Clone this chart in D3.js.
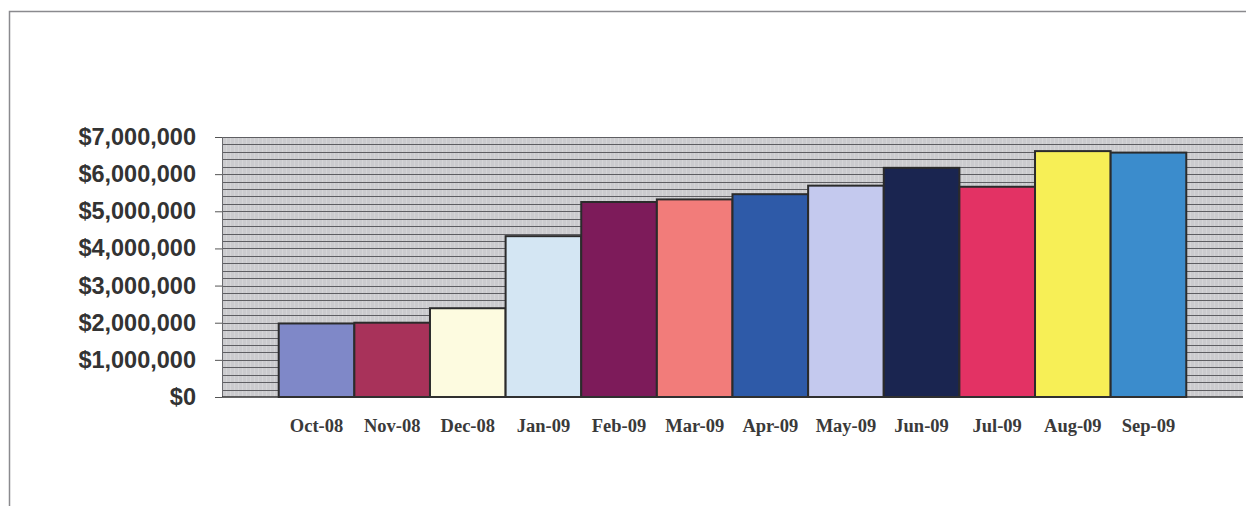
<!DOCTYPE html>
<html lang="en">
<head>
<meta charset="utf-8">
<script src="https://d3js.org/d3.v7.min.js"></script>
<style>
  body { margin: 0; background: #fff; }
  svg { display: block; }
</style>
</head>
<body>
<script>
// monthly totals, Oct-08 .. Sep-09
const months = ["Oct-08", "Nov-08", "Dec-08", "Jan-09", "Feb-09", "Mar-09",
                "Apr-09", "May-09", "Jun-09", "Jul-09", "Aug-09", "Sep-09"];
const amounts = [1980000, 2000000, 2390000, 4330000, 5250000, 5320000,
                 5460000, 5690000, 6170000, 5660000, 6620000, 6580000];
const barColors = ["#7f88c8", "#a8325a", "#fdfbe0", "#d4e6f3", "#7d1b5a", "#f27c7a",
                   "#2e5aa8", "#c4c9ee", "#1a2550", "#e33264", "#f7ef56", "#3b8ccc"];
const yTicks = [0, 1000000, 2000000, 3000000, 4000000, 5000000, 6000000, 7000000];

const width = 1246, height = 506;
const margin = {top: 137, right: 3, bottom: 109, left: 222};

const svg = d3.select("body").append("svg")
  .attr("width", width)
  .attr("height", height);

// outer frame (scanned page edge)
svg.append("path")
  .attr("d", `M9.5,${height} V11.5 H${width}`)
  .attr("fill", "none")
  .attr("stroke", "#8a8a8e")
  .attr("stroke-width", 1.5);

const x = d3.scaleBand()
  .domain(months)
  .range([margin.left, width - margin.right])
  .paddingInner(0)
  .paddingOuter(0.75);

const y = d3.scaleLinear()
  .domain([0, 7000000])
  .range([height - margin.bottom, margin.top]);

// textured plot background
const defs = svg.append("defs");
const pat = defs.append("pattern")
  .attr("id", "tex")
  .attr("width", 4).attr("height", 4)
  .attr("patternUnits", "userSpaceOnUse");
pat.append("rect").attr("width", 4).attr("height", 4).attr("fill", "#cbcbce");
pat.append("rect").attr("x", 2).attr("width", 1).attr("height", 4).attr("fill", "#d5d5d7");

svg.append("rect")
  .attr("x", margin.left)
  .attr("y", margin.top)
  .attr("width", width - margin.right - margin.left)
  .attr("height", y(0) - margin.top)
  .attr("fill", "url(#tex)");

// minor gridlines every 200,000
const grid = d3.range(200000, 7000001, 200000);
svg.append("g")
  .selectAll("line")
  .data(grid)
  .join("line")
  .attr("x1", margin.left)
  .attr("x2", width - margin.right)
  .attr("y1", d => Math.round(y(d)) + 0.5)
  .attr("y2", d => Math.round(y(d)) + 0.5)
  .attr("stroke", "#5e5e62")
  .attr("stroke-width", 1);

// left edge of plot
svg.append("line")
  .attr("x1", margin.left + 0.5).attr("x2", margin.left + 0.5)
  .attr("y1", margin.top).attr("y2", y(0))
  .attr("stroke", "#6a6a6e");

// bars
svg.append("g")
  .selectAll("rect")
  .data(amounts)
  .join("rect")
  .attr("x", (d, i) => x(months[i]))
  .attr("y", d => y(d))
  .attr("width", x.bandwidth())
  .attr("height", d => y(0) - y(d))
  .attr("fill", (d, i) => barColors[i])
  .attr("stroke", "#2b2b2b")
  .attr("stroke-width", 2);

// y axis
const yAxis = svg.append("g")
  .attr("transform", `translate(${margin.left},0)`)
  .call(d3.axisLeft(y)
    .tickValues(yTicks)
    .tickSize(7)
    .tickPadding(19)
    .tickFormat(d => "$" + d3.format(",")(d)));
yAxis.select(".domain").remove();
yAxis.selectAll(".tick line").attr("stroke", "#555");
yAxis.selectAll("text")
  .attr("fill", "#333")
  .style("font-family", "'Liberation Sans', Arial, sans-serif")
  .style("font-weight", "bold")
  .style("font-size", "23.5px");

// baseline
svg.append("line")
  .attr("x1", margin.left).attr("x2", width - margin.right)
  .attr("y1", y(0)).attr("y2", y(0))
  .attr("stroke", "#333").attr("stroke-width", 1.5);

// x axis labels
const xAxis = svg.append("g")
  .attr("transform", `translate(0,${y(0)})`)
  .call(d3.axisBottom(x).tickSize(0).tickPadding(22));
xAxis.select(".domain").remove();
xAxis.selectAll("text")
  .attr("fill", "#3a3a3a")
  .style("font-family", "'Liberation Serif', 'Times New Roman', serif")
  .style("font-weight", "bold")
  .style("font-size", "18.5px");
</script>
</body>
</html>
